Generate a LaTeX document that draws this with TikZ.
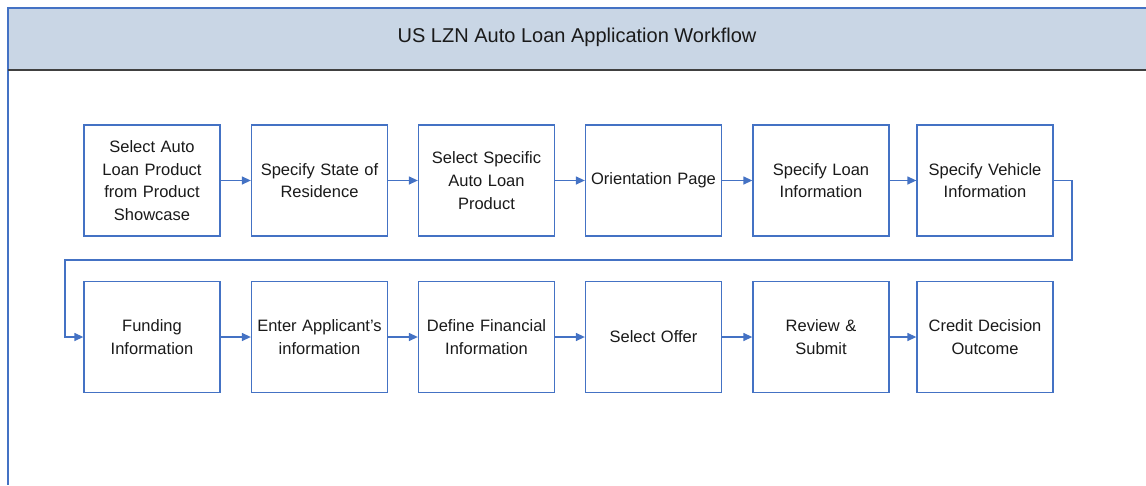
\documentclass[tikz,border=0pt]{standalone}
\usepackage{fontspec}
\setmainfont{Liberation Sans}
\usetikzlibrary{arrows.meta}
\definecolor{boxblue}{HTML}{4472C4}
\definecolor{headfill}{HTML}{C9D6E5}
\definecolor{headline}{HTML}{404040}
\definecolor{txt}{HTML}{1A1A1A}

\begin{document}
\begin{tikzpicture}[x=1pt,y=-1pt,
    step box/.style={draw=boxblue,line width=1.3pt,fill=white,
        minimum width=136pt,minimum height=111pt,text width=132pt,
        align=center,inner sep=0pt,text=txt,
        font={\fontsize{16.5}{22.6}\selectfont}},
    flow/.style={draw=boxblue,line width=1.3pt,
        -{Triangle[length=9pt,width=8pt]}}]
\useasboundingbox (0,0) rectangle (1146,485);

% header band and frame
\fill[headfill] (8,8) rectangle (1146,70);
\draw[boxblue,line width=1.6pt] (8,8) -- (1146,8);
\draw[boxblue,line width=2pt] (8,7) -- (8,485);
\draw[headline,line width=1.5pt] (8,70) -- (1146,70);
\node[text=txt,font={\fontsize{20}{24}\selectfont}] (title) at (577,37)
    {US LZN Auto Loan Application Workflow};

% first row
\node[step box] (prod) at (152,180.5) {Select Auto\\Loan Product\\from Product\\Showcase};
\node[step box] (state) at (319.5,180.5) {Specify State of\\Residence};
\node[step box] (spec) at (486.5,180.5) {Select Specific\\Auto Loan\\Product};
\node[step box] (orient) at (653.5,180.5) {Orientation Page};
\node[step box] (loan) at (821,180.5) {Specify Loan\\Information};
\node[step box] (vehicle) at (985,180.5) {Specify Vehicle\\Information};

% second row
\node[step box] (funding) at (152,337) {Funding\\Information};
\node[step box] (applicant) at (319.5,337) {Enter Applicant's\\information};
\node[step box] (financial) at (486.5,337) {Define Financial\\Information};
\node[step box] (offer) at (653.5,337) {Select Offer};
\node[step box] (review) at (821,337) {Review \&\\Submit};
\node[step box] (decision) at (985,337) {Credit Decision\\Outcome};

\draw[flow] (prod) -- (state);
\draw[flow] (state) -- (spec);
\draw[flow] (spec) -- (orient);
\draw[flow] (orient) -- (loan);
\draw[flow] (loan) -- (vehicle);

% wrap to the second row
\coordinate (wrapR) at (1072,260);
\coordinate (wrapL) at (65,260);
\draw[flow] (vehicle.east) -| (wrapR) -- (wrapL) |- (funding.west);

\draw[flow] (funding) -- (applicant);
\draw[flow] (applicant) -- (financial);
\draw[flow] (financial) -- (offer);
\draw[flow] (offer) -- (review);
\draw[flow] (review) -- (decision);
\end{tikzpicture}
\end{document}
